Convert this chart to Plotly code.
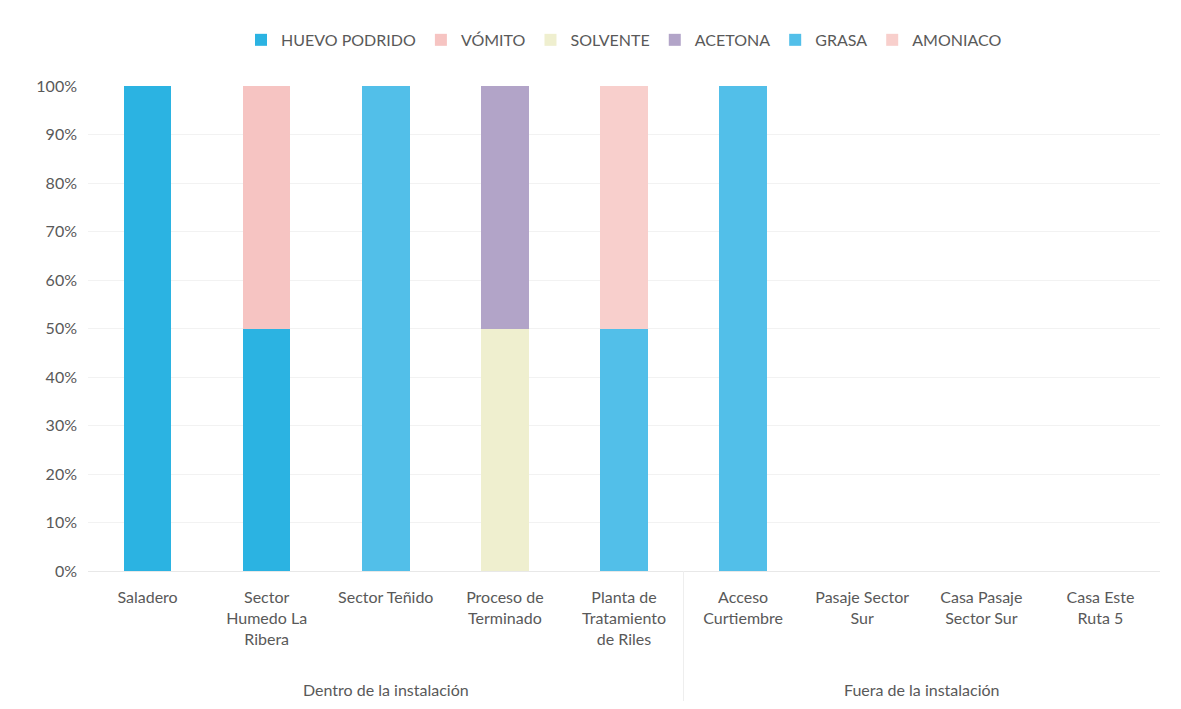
import plotly.graph_objects as go

categories = ["Saladero", "Sector<br>Humedo La<br>Ribera", "Sector Teñido", "Proceso de<br>Terminado",
              "Planta de<br>Tratamiento<br>de Riles", "Acceso<br>Curtiembre", "Pasaje Sector<br>Sur",
              "Casa Pasaje<br>Sector Sur", "Casa Este<br>Ruta 5"]
groups = ["Dentro de la instalación", "Fuera de la instalación"]
group_sizes = [5, 4]

huevo_podrido = [1.0, 0.5, 0, 0, 0, 0, 0, 0, 0]
vomito = [0, 0.5, 0, 0, 0, 0, 0, 0, 0]
solvente = [0, 0, 0, 0.5, 0, 0, 0, 0, 0]
acetona = [0, 0, 0, 0.5, 0, 0, 0, 0, 0]
grasa = [0, 0, 1.0, 0, 0.5, 1.0, 0, 0, 0]
amoniaco = [0, 0, 0, 0, 0.5, 0, 0, 0, 0]

series = [
    ("HUEVO PODRIDO", huevo_podrido, "#2bb3e2"),
    ("VÓMITO", vomito, "#f6c4c2"),
    ("SOLVENTE", solvente, "#efefcf"),
    ("ACETONA", acetona, "#b2a4c8"),
    ("GRASA", grasa, "#52bfe9"),
    ("AMONIACO", amoniaco, "#f8cfcc"),
]

fig = go.Figure()
for name, vals, col in series:
    fig.add_trace(go.Bar(x=list(range(len(categories))), y=vals, name=name,
                         marker=dict(color=col, line=dict(width=0)), width=0.4))

g0_center = (group_sizes[0] - 1) / 2
g1_center = group_sizes[0] + (group_sizes[1] - 1) / 2
divider = group_sizes[0] - 0.5

font = "Lato, 'Open Sans', sans-serif"
fig.update_layout(
    barmode="stack",
    width=1165, height=693,
    paper_bgcolor="white", plot_bgcolor="white",
    margin=dict(l=80, r=13, t=78, b=130),
    font=dict(family=font, size=16, color="#595959"),
    legend=dict(orientation="h", x=0.5, xanchor="center", y=1.095, yanchor="middle",
                font=dict(size=16, color="#595959"), itemsizing="constant", traceorder="normal"),
    xaxis=dict(tickmode="array", tickvals=list(range(len(categories))), ticktext=categories,
               range=[-0.5, len(categories) - 0.5], showgrid=False, zeroline=False,
               showline=True, linecolor="#e8e8e8", ticks="", ticklabelstandoff=12,
               tickfont=dict(size=16, color="#595959")),
    yaxis=dict(range=[0, 1], tickformat=".0%", dtick=0.1, showgrid=True, gridcolor="#f2f2f2",
               zeroline=False, showline=False, ticks="", ticklabelstandoff=10,
               tickfont=dict(size=16, color="#595959")),
    shapes=[
        dict(type="line", xref="x", yref="paper", x0=divider, x1=divider, y0=0, y1=-0.275,
             line=dict(color="#eeeeee", width=1)),
    ],
    annotations=[
        dict(text=groups[0], x=g0_center, xref="x", y=-0.268, yref="paper", showarrow=False,
             font=dict(size=16, color="#595959")),
        dict(text=groups[1], x=g1_center, xref="x", y=-0.268, yref="paper", showarrow=False,
             font=dict(size=16, color="#595959")),
    ],
)

fig.write_html("out.html")
